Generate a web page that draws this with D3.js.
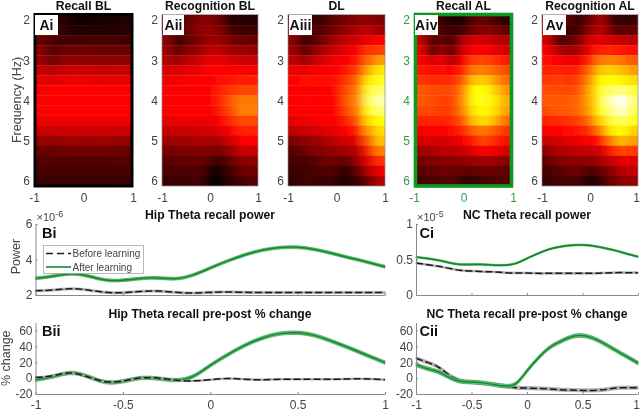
<!DOCTYPE html>
<html><head><meta charset="utf-8">
<script src="https://cdn.jsdelivr.net/npm/d3@7/dist/d3.min.js"></script>
<style>
html,body{margin:0;padding:0;background:#fff}
svg{display:block;filter:blur(0.35px)}
text{font-family:"Liberation Sans",Arial,sans-serif}
</style></head><body>
<svg id="c" width="640" height="411"></svg>
<script>
// ---------- data ----------
const freqs = [2,2.25,2.5,2.75,3,3.25,3.5,3.75,4,4.25,4.5,4.75,5,5.25,5.5,5.75,6];
const times = [-1,-.75,-.5,-.25,0,.25,.5,.75,1];
const heatTitles = ["Recall BL","Recognition BL","DL","Recall AL","Recognition AL"];
const heatLabels = ["Ai","Aii","Aiii","Aiv","Av"];
const heatAi = [
[.06,.07,.06,.03,.02,.03,.03,.04,.05],
[.08,.09,.08,.05,.05,.05,.05,.05,.06],
[.15,.10,.10,.09,.10,.10,.10,.10,.09],
[.20,.11,.15,.16,.16,.15,.15,.15,.15],
[.22,.16,.20,.21,.20,.20,.20,.20,.20],
[.28,.26,.28,.29,.29,.28,.28,.28,.28],
[.33,.32,.33,.34,.34,.33,.33,.33,.33],
[.36,.36,.365,.365,.365,.365,.365,.36,.36],
[.37,.37,.37,.37,.37,.37,.37,.37,.37],
[.37,.37,.37,.37,.37,.37,.37,.37,.37],
[.34,.34,.34,.34,.34,.34,.34,.34,.34],
[.29,.29,.29,.29,.29,.29,.29,.29,.29],
[.21,.21,.22,.23,.22,.22,.23,.22,.21],
[.15,.15,.15,.16,.16,.16,.16,.15,.15],
[.12,.12,.12,.12,.12,.12,.12,.12,.12],
[.10,.10,.10,.10,.10,.10,.10,.10,.10],
[.08,.08,.08,.08,.08,.08,.08,.08,.08]];
const heatAii = [
[.12,.12,.14,.18,.20,.14,.05,.06,.05],
[.15,.13,.16,.20,.22,.18,.10,.09,.09],
[.20,.08,.14,.18,.22,.22,.17,.15,.15],
[.22,.12,.20,.22,.27,.27,.22,.22,.21],
[.26,.22,.27,.29,.33,.33,.30,.29,.29],
[.31,.31,.33,.34,.36,.37,.36,.36,.36],
[.34,.35,.36,.37,.37,.38,.40,.41,.41],
[.36,.36,.37,.37,.37,.42,.45,.47,.47],
[.37,.37,.37,.37,.37,.42,.50,.55,.54],
[.36,.37,.37,.37,.36,.40,.48,.56,.55],
[.33,.34,.34,.34,.34,.36,.43,.48,.47],
[.28,.29,.29,.30,.30,.32,.37,.42,.42],
[.22,.23,.23,.24,.24,.24,.30,.36,.36],
[.17,.18,.18,.19,.18,.17,.22,.29,.28],
[.12,.14,.14,.15,.12,.08,.15,.20,.20],
[.10,.11,.11,.12,.05,.03,.10,.15,.16],
[.08,.09,.09,.10,.02,.01,.07,.10,.12]];
const heatAiii = [
[.13,.13,.08,.10,.15,.17,.20,.20,.18],
[.20,.15,.10,.13,.18,.22,.25,.27,.22],
[.20,.08,.12,.18,.25,.28,.30,.34,.36],
[.23,.12,.20,.25,.30,.33,.36,.44,.46],
[.28,.22,.28,.32,.35,.37,.40,.52,.60],
[.34,.33,.35,.35,.37,.40,.46,.62,.72],
[.37,.38,.38,.38,.38,.45,.52,.72,.78],
[.37,.37,.37,.37,.38,.48,.56,.80,.85],
[.37,.37,.37,.37,.37,.50,.58,.84,.92],
[.36,.37,.37,.37,.37,.48,.56,.78,.86],
[.33,.34,.35,.36,.36,.42,.50,.70,.76],
[.27,.29,.30,.32,.34,.36,.42,.60,.70],
[.18,.20,.22,.24,.28,.30,.33,.50,.66],
[.12,.15,.18,.20,.22,.23,.26,.42,.56],
[.10,.10,.12,.16,.16,.14,.22,.33,.44],
[.08,.09,.10,.12,.10,.07,.14,.26,.34],
[.07,.09,.09,.09,.07,.05,.08,.16,.26]];
const heatAiv = [
[.14,.12,.08,.05,.04,.13,.15,.10,.06],
[.22,.15,.10,.08,.10,.17,.19,.18,.14],
[.28,.10,.15,.10,.25,.30,.30,.27,.25],
[.33,.12,.22,.12,.30,.36,.36,.33,.30],
[.37,.30,.33,.25,.35,.46,.47,.44,.40],
[.40,.38,.38,.37,.42,.55,.56,.52,.47],
[.44,.43,.43,.43,.50,.66,.68,.60,.52],
[.50,.48,.47,.47,.56,.75,.75,.68,.58],
[.50,.48,.46,.46,.58,.76,.77,.72,.62],
[.47,.47,.45,.46,.56,.72,.75,.70,.60],
[.42,.42,.42,.43,.50,.66,.70,.64,.52],
[.36,.37,.37,.38,.42,.52,.55,.50,.44],
[.30,.31,.30,.32,.35,.42,.47,.42,.38],
[.22,.25,.27,.27,.28,.33,.36,.34,.30],
[.16,.18,.20,.20,.20,.22,.24,.22,.20],
[.12,.14,.16,.15,.14,.14,.15,.15,.14],
[.10,.10,.12,.12,.08,.07,.10,.11,.12]];
const heatAv = [
[.22,.20,.12,.08,.15,.25,.10,.07,.08],
[.25,.15,.08,.10,.20,.28,.15,.13,.14],
[.30,.12,.12,.18,.30,.33,.30,.28,.27],
[.35,.26,.22,.24,.35,.42,.42,.40,.38],
[.38,.36,.33,.35,.42,.55,.56,.54,.50],
[.42,.42,.40,.42,.52,.66,.68,.65,.60],
[.45,.46,.44,.46,.58,.74,.75,.74,.70],
[.48,.48,.47,.49,.62,.77,.85,.88,.80],
[.50,.50,.50,.52,.62,.78,.93,1,.86],
[.48,.50,.50,.52,.60,.75,.88,.96,.82],
[.42,.43,.44,.46,.53,.68,.80,.85,.76],
[.36,.37,.38,.40,.44,.55,.72,.75,.68],
[.28,.30,.32,.34,.36,.40,.56,.65,.60],
[.20,.25,.26,.28,.28,.30,.40,.48,.45],
[.14,.18,.20,.20,.20,.23,.28,.33,.32],
[.10,.12,.15,.15,.10,.14,.20,.26,.28],
[.08,.10,.11,.10,.03,.08,.15,.20,.22]];

const lineT = [-1,-.9,-.8,-.7,-.6,-.5,-.4,-.3,-.2,-.1,0,.1,.2,.3,.4,.5,.6,.7,.8,.9,1];
const biBefore = [2.24,2.28,2.35,2.28,2.15,2.13,2.2,2.22,2.15,2.11,2.15,2.17,2.15,2.14,2.14,2.14,2.14,2.14,2.14,2.14,2.14];
const biAfter  = [2.94,3.06,3.19,3.07,2.85,2.83,2.93,2.96,2.92,3.12,3.52,3.92,4.27,4.53,4.67,4.69,4.56,4.34,4.09,3.85,3.59];
const biiBefore= [1,3,6.5,1.5,-4.5,-3.5,0,0,-2.5,-3.5,-2,-.5,-1.5,-2,-1.5,-1.5,-1.5,-1.5,-1,-1,-2];
const biiAfter = [-2,2,6.5,2,-5,-4,0,-.5,-2.5,2,16,29.5,41.5,50.5,56,57,53.5,46,37.5,28.5,19.5];
const ciBefore = [.45,.427,.405,.375,.347,.338,.33,.325,.315,.31,.31,.305,.305,.305,.305,.305,.305,.31,.315,.315,.315];
const ciAfter  = [.535,.515,.49,.455,.43,.43,.43,.42,.42,.445,.515,.585,.645,.68,.70,.705,.69,.66,.625,.58,.54];
const ciiBefore= [25,20,14,4,-3,-5,-6.5,-8,-10,-12,-12.5,-13,-13.5,-14.5,-15,-15.5,-15.5,-14.5,-12.5,-12,-12];
const ciiAfter = [17,12,8,1,-4,-5,-6,-8,-10,-7,9,25,38,46,52,53.5,50,43,35,27,19];
const legendNames = ["Before learning","After learning"];

// ---------- helpers ----------
const svg = d3.select("#c");
const defs = svg.append("defs");
const tickGray = "#444", axisGray = "#8a8a8a";
const hot = d3.scaleLinear()
  .domain([0,.365,.75,1])
  .range(["#000000","#ff0000","#ffff00","#ffffff"])
  .clamp(true);
defs.append("filter").attr("id","soft").attr("x","-10%").attr("y","-10%").attr("width","120%").attr("height","120%")
  .append("feGaussianBlur").attr("stdDeviation","5 0.6");

const heats = [heatAi,heatAii,heatAiii,heatAiv,heatAv];
const heatBoxes = [[36,131],[162,258],[288,385],[416,511],[542,638]];
const heatTop = 15, heatBottom = 186;
heats.forEach((m,i)=>{
  const [x0,x1] = heatBoxes[i];
  const green = i===3;
  const x = d3.scaleLinear().domain([-1,1]).range([x0+ (x1-x0)/18, x1-(x1-x0)/18]);
  const xAxisScale = d3.scaleLinear().domain([-1,1]).range(i===0?[34,133]:i===3?[414,513]:[x0,x1]);
  const y = d3.scaleLinear().domain([1.875,6.125]).range([heatTop,heatBottom]);
  const g = svg.append("g");
  const cid = "clip"+i;
  defs.append("clipPath").attr("id",cid).append("rect").attr("x",x0).attr("y",heatTop).attr("width",x1-x0).attr("height",heatBottom-heatTop);
  const cw = (x1-x0)/9;
  const clip = g.append("g").attr("clip-path",`url(#${cid})`);
  const inner = clip.append("g").attr("filter","url(#soft)");
  m.forEach((row,r)=>row.forEach((v,c)=>{
    const ext = (c===0?20:0), extR=(c===8?20:0);
    const extT = r===0?10:0, extB = r===16?10:0;
    inner.append("rect")
      .attr("x",x(times[c])-cw/2-ext-.3)
      .attr("width",cw+ext+extR+.6)
      .attr("y",y(freqs[r])-5.03-extT)
      .attr("height",10.06+extT+extB+.3)
      .attr("fill",hot(v));
  }));
  // axes
  const col = green ? "#2e9e44" : tickGray;
  const ax = g.append("g").attr("transform",`translate(0,${heatBottom+1})`)
    .call(d3.axisBottom(xAxisScale).tickValues([-1,0,1]).tickSize(0).tickPadding(4).tickFormat(d=>String(d)));
  ax.select(".domain").remove();
  ax.selectAll("text").attr("fill",col).attr("font-size",12).attr("font-family",'"Liberation Sans"').attr("dy","0.95em")
    .attr("dx",d=>(i===4&&d===1)?-2:0);
  const ay = g.append("g").attr("transform",`translate(${xAxisScale.range()[0]+1},0)`)
    .call(d3.axisLeft(y).tickValues([2,3,4,5,6]).tickSize(0).tickPadding(5).tickFormat(d=>String(d)));
  ay.select(".domain").remove();
  ay.selectAll("text").attr("fill",col).attr("font-size",12).attr("font-family",'"Liberation Sans"');
  // frame
  if(i===0){
    g.append("rect").attr("x",35).attr("y",14.5).attr("width",97).attr("height",171.5).attr("fill","none").attr("stroke","#000").attr("stroke-width",3);
  } else if(green){
    g.append("rect").attr("x",415.5).attr("y",14.5).attr("width",96).attr("height",171.5).attr("fill","none").attr("stroke","#0b9a20").attr("stroke-width",3.6);
  } else {
    g.append("rect").attr("x",x0).attr("y",heatTop-.5).attr("width",x1-x0).attr("height",heatBottom-heatTop+.5).attr("fill","none").attr("stroke","#8a8a8a").attr("stroke-width",.7);
  }
  // label
  const lx = xAxisScale.range()[0]+1;
  const lw = [23,21,23,23,23][i];
  g.append("rect").attr("x",lx).attr("y",15).attr("width",lw).attr("height",20).attr("fill","#fff");
  g.append("text").attr("x",lx+lw/2).attr("y",30).attr("text-anchor","middle").attr("font-size",14).attr("font-weight","bold").attr("fill","#111").attr("letter-spacing",i===3?"0.4":"0").text(heatLabels[i]);
  // title
  g.append("text").attr("x",d3.mean(xAxisScale.range())).attr("y",10).attr("text-anchor","middle").attr("font-size",12.2).attr("font-weight","bold").attr("fill","#111").text(heatTitles[i]);
});
svg.append("text").attr("transform","translate(20.5,100) rotate(-90)").attr("text-anchor","middle").attr("font-size",12.5).attr("fill",tickGray).text("Frequency (Hz)");

// ---------- line panels ----------
const greenBand="#6fc080", greenLine="#128a2c", grayBand="#b5b5b5";
function linePanel(o){
  const x = d3.scaleLinear().domain([-1,1]).range([o.x0,o.x1]);
  const y = d3.scaleLinear().domain(o.yd).range([o.yb,o.yt]);
  const g = svg.append("g");
  const line = d3.line().x((d,i)=>x(lineT[i])).y(d=>y(d)).curve(d3.curveNatural);
  const area = (w)=>d3.area().x((d,i)=>x(lineT[i])).y0(d=>y(d-w)).y1(d=>y(d+w)).curve(d3.curveNatural);
  const drawBefore = ()=>{
    g.append("path").attr("d",area(o.wb)(o.before)).attr("fill",grayBand).attr("stroke","#888").attr("stroke-width",.5);
    g.append("path").attr("d",line(o.before)).attr("fill","none").attr("stroke","#1a1a1a").attr("stroke-width",1.5).attr("stroke-dasharray","7 3");
  };
  const drawAfter = ()=>{
    g.append("path").attr("d",area(o.wa)(o.after)).attr("fill",greenBand).attr("stroke","#2a9a40").attr("stroke-width",.6);
    g.append("path").attr("d",line(o.after)).attr("fill","none").attr("stroke",greenLine).attr("stroke-width",1.5);
  };
  if(o.afterFirst){drawAfter();drawBefore();} else {drawBefore();drawAfter();}
  const ax = g.append("g").attr("transform",`translate(0,${o.yb})`)
    .call(d3.axisBottom(x).tickValues([-1,-.5,0,.5,1]).tickSizeInner(-2).tickSizeOuter(0).tickPadding(6).tickFormat(o.xLabels?(d=>String(d)):""));
  ax.select(".domain").attr("stroke",axisGray);
  ax.selectAll("line").attr("stroke",axisGray);
  ax.selectAll("text").attr("fill",tickGray).attr("font-size",12).attr("font-family",'"Liberation Sans"')
    .attr("dx",d=>(o.x1>600&&d===1)?-2:0);
  const ay = g.append("g").attr("transform",`translate(${o.x0},0)`)
    .call(d3.axisLeft(y).tickValues(o.yt_).tickSizeInner(-2).tickSizeOuter(0).tickPadding(3).tickFormat(d=>String(d)));
  ay.select(".domain").attr("stroke",axisGray);
  ay.selectAll("line").attr("stroke",axisGray);
  ay.selectAll("text").attr("fill",tickGray).attr("font-size",12).attr("font-family",'"Liberation Sans"');
  g.append("text").attr("x",o.tx).attr("y",o.ty).attr("text-anchor","middle").attr("font-size",12.2).attr("font-weight","bold").attr("fill","#111").text(o.title);
  g.append("text").attr("x",o.x0+o.lx).attr("y",o.yt+13.5).attr("font-size",14.5).attr("font-weight","bold").attr("fill","#111").text(o.label);
  if(o.exp){
    const t=g.append("text").attr("x",o.x0+1).attr("y",221).attr("font-size",11).attr("fill",tickGray);
    t.append("tspan").text("×10");
    t.append("tspan").attr("dy",-4).attr("font-size",9).text(o.exp);
  }
  if(o.ylabel) g.append("text").attr("transform",`translate(${o.ylx},${(o.yb+o.yt)/2+o.yly}) rotate(-90)`).attr("text-anchor","middle").attr("font-size",12.5).attr("fill",tickGray).text(o.ylabel);
}
linePanel({x0:35.5,x1:385,yd:[2,6],yb:295,yt:224,yt_:[2,4,6],before:biBefore,after:biAfter,wb:.06,wa:.08,title:"Hip Theta recall power",tx:210,ty:219,label:"Bi",lx:6.5,exp:"-6",ylabel:"Power",ylx:20,yly:-3});
linePanel({x0:35.5,x1:385,yd:[-20,70],yb:394,yt:322.5,yt_:[-20,0,20,40,60],before:biiBefore,after:biiAfter,wb:1,wa:2.2,title:"Hip Theta recall pre-post % change",tx:210,ty:318,label:"Bii",lx:6.5,ylabel:"% change",ylx:10,yly:0,xLabels:true,afterFirst:true});
linePanel({x0:416,x1:638,yd:[0,1],yb:295,yt:224,yt_:[0,.5,1],before:ciBefore,after:ciAfter,wb:.012,wa:.012,title:"NC Theta recall power",tx:527,ty:219,label:"Ci",lx:3.5,exp:"-5"});
linePanel({x0:416,x1:638,yd:[-20,70],yb:394,yt:322.5,yt_:[-20,0,20,40,60],before:ciiBefore,after:ciiAfter,wb:2,wa:2.4,title:"NC Theta recall pre-post % change",tx:527,ty:318,label:"Cii",lx:3.5,xLabels:true});

// legend
const lg = svg.append("g");
lg.append("rect").attr("x",43.5).attr("y",245.5).attr("width",100).attr("height",28).attr("fill","#fff").attr("stroke","#9a9a9a").attr("stroke-width",.7);
legendNames.forEach((n,i)=>{
  const yy = 253.5+i*13.5;
  lg.append("line").attr("x1",46).attr("x2",71).attr("y1",yy).attr("y2",yy)
    .attr("stroke",i?greenLine:"#1a1a1a").attr("stroke-width",1.6).attr("stroke-dasharray",i?null:"7 4");
  lg.append("text").attr("x",72.5).attr("y",yy+3.5).attr("font-size",10).attr("fill",tickGray).text(n);
});
</script>
</body></html>
